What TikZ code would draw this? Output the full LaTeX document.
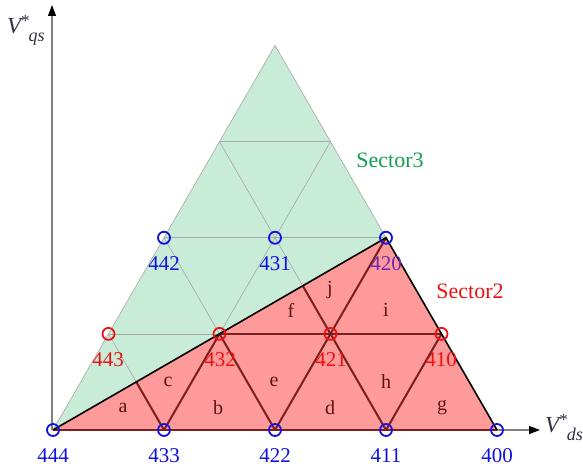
\documentclass[tikz,border=0pt]{standalone}
\usepackage{fontspec}
\setmainfont{Liberation Serif}
\usetikzlibrary{arrows.meta}
\definecolor{gfill}{HTML}{C9ECD9}
\definecolor{rfill}{HTML}{FF9A9A}
\definecolor{dred}{HTML}{7A1F1F}
\definecolor{lett}{HTML}{5A1414}
\definecolor{vblue}{HTML}{1010E0}
\definecolor{vred}{HTML}{EE1010}
\definecolor{vpurp}{HTML}{6A2AB0}
\definecolor{sgreen}{HTML}{10A050}
\definecolor{axgray}{HTML}{7F7F7F}
\definecolor{vtext}{HTML}{303040}
\tikzset{
  x=1pt,y=-1pt,
  bcirc/.style={circle,draw=vblue,line width=1.8pt,minimum size=12pt,inner sep=0pt},
  rcirc/.style={circle,draw=vred,line width=1.8pt,minimum size=12pt,inner sep=0pt},
  blab/.style={text=vblue,font=\fontsize{21}{21}\selectfont,inner sep=0pt},
  rlab/.style={text=vred,font=\fontsize{21}{21}\selectfont,inner sep=0pt},
  letr/.style={text=lett,font=\fontsize{20}{20}\selectfont,inner sep=0pt},
  grayline/.style={draw=gray!70,line width=0.6pt},
  redline/.style={draw=dred,line width=2pt},
  edge/.style={draw=black,line width=1.6pt},
  axis/.style={draw=axgray,line width=1.1pt,-{Triangle[length=11pt,width=8pt,fill=black,color=black]}},
  axlab/.style={text=vtext,inner sep=0pt,anchor=west,font=\fontsize{23}{23}\selectfont\itshape},
}
\newcommand{\axisname}[2]{V\raisebox{7pt}{\fontsize{17}{17}\selectfont\upshape *}\hspace{-1pt}\raisebox{-8pt}{\fontsize{18}{18}\selectfont #2}}
\begin{document}
\begin{tikzpicture}
\useasboundingbox (0,0) rectangle (583,470);
% lattice points P(i,j)
\foreach \j in {0,...,4}{
  \pgfmathtruncatemacro{\m}{4-\j}
  \foreach \i in {0,...,\m}{
    \coordinate (p\i\j) at ({53+\i*111+\j*55.5},{430-\j*96.13});
  }
}
% Sector 3 (green)
\fill[gfill] (p00) -- (p22) -- (p04) -- cycle;
\begin{scope}
  \clip (p00) -- (p22) -- (p04) -- cycle;
  \foreach \j in {1,2,3}{\pgfmathtruncatemacro{\m}{4-\j}\draw[grayline] (p0\j) -- (p\m\j);}
  \foreach \i in {1,2,3}{\pgfmathtruncatemacro{\m}{4-\i}\draw[grayline] (p\i0) -- (p\i\m);}
  \foreach \i in {1,2,3}{\draw[grayline] (p\i0) -- (p0\i);}
\end{scope}
\draw[grayline] (p00) -- (p04) -- (p22);
% Sector 2 (red)
\fill[rfill] (p00) -- (p40) -- (p22) -- cycle;
\begin{scope}
  \clip (p00) -- (p40) -- (p22) -- cycle;
  \foreach \j in {1,2,3}{\pgfmathtruncatemacro{\m}{4-\j}\draw[redline] (p0\j) -- (p\m\j);}
  \foreach \i in {1,2,3}{\pgfmathtruncatemacro{\m}{4-\i}\draw[redline] (p\i0) -- (p\i\m);}
  \foreach \i in {1,2,3}{\draw[redline] (p\i0) -- (p0\i);}
\end{scope}
% axes
\coordinate (ybase) at (52,430);
\coordinate (ytip) at (52,5);
\coordinate (xtip) at (540,430);
\draw[axis] (ybase) -- (ytip);
\draw[axis] (p00) -- (xtip);
\draw[redline] (p00) -- (p40);
\draw[edge] (p00) -- (p22) -- (p40);
% circles
\node[bcirc] (n444) at (p00) {};
\node[bcirc] (n433) at (p10) {};
\node[bcirc] (n422) at (p20) {};
\node[bcirc] (n411) at (p30) {};
\node[bcirc] (n400) at (p40) {};
\node[rcirc] (n443) at (p01) {};
\node[rcirc] (n432) at (p11) {};
\node[rcirc] (n421) at (p21) {};
\node[rcirc] (n410) at (p31) {};
\node[bcirc] (n442) at (p02) {};
\node[bcirc] (n431) at (p12) {};
\node[bcirc] (n420) at (p22) {};
% vertex labels
\node[blab] at (53,456) {444};
\node[blab] at (164,456) {433};
\node[blab] at (275,456) {422};
\node[blab] at (386,456) {411};
\node[blab] at (497,456) {400};
\node[rlab] at (108,360) {443};
\node[rlab] at (220,360) {432};
\node[rlab] at (331,360) {421};
\node[rlab] at (441,360) {410};
\node[blab] at (164,264) {442};
\node[blab] at (275,264) {431};
\node[blab,text=vpurp] at (386,264) {420};
% region letters
\node[letr] at (123,408) {a};
\node[letr] at (218,408) {b};
\node[letr] at (168,382) {c};
\node[letr] at (330,408) {d};
\node[letr] at (274,382) {e};
\node[letr] at (291,310) {f};
\node[letr] at (442,408) {g};
\node[letr] at (386,382) {h};
\node[letr] at (386,310) {i};
\node[letr] at (330,290) {j};
% sector labels
\node[text=sgreen,font=\fontsize{22}{22}\selectfont,inner sep=0pt] at (390,160) {Sector3};
\node[text=vred,font=\fontsize{22}{22}\selectfont,inner sep=0pt] at (470,291) {Sector2};
% axis labels
\node[axlab] (vq) at (7,30) {\axisname{V}{qs}};
\node[axlab] (vd) at (545,428) {\axisname{V}{ds}};
\end{tikzpicture}
\end{document}
